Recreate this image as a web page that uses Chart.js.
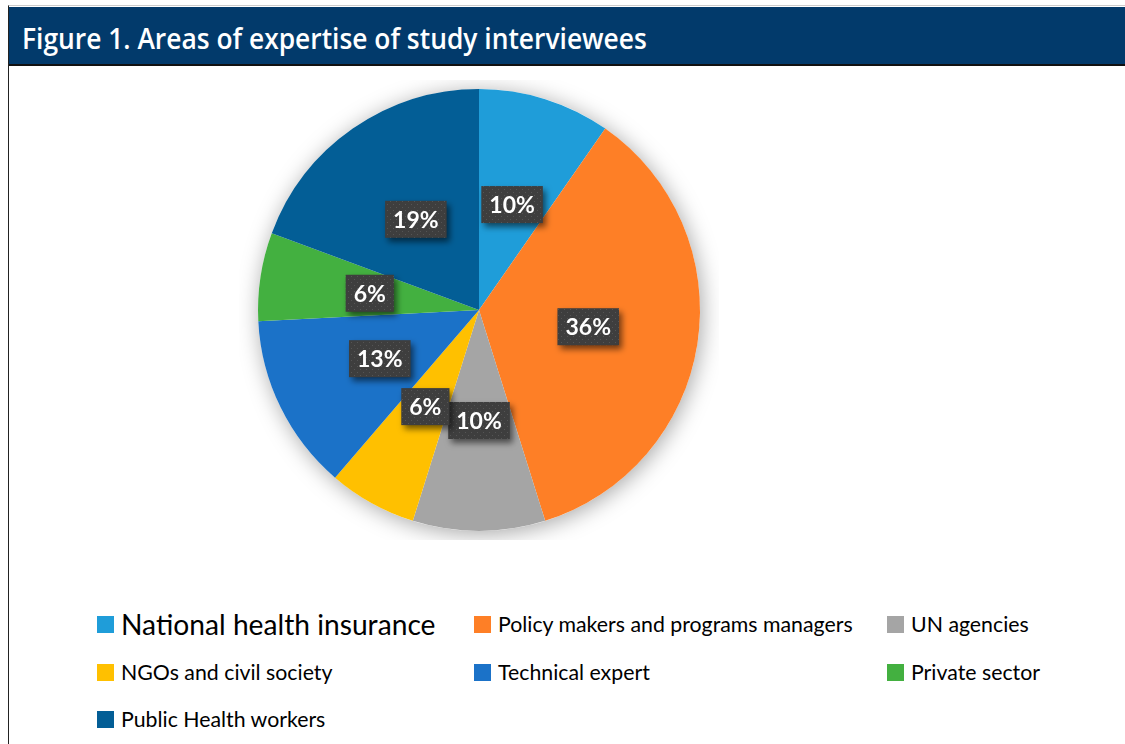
<!DOCTYPE html>
<html>
<head>
<meta charset="utf-8">
<script src="https://cdn.jsdelivr.net/npm/chart.js@4"></script>
<style>
  html, body { margin: 0; padding: 0; background: #fff; }
  body { width: 1125px; height: 744px; position: relative; overflow: hidden; font-family: Lato, "Open Sans", sans-serif; }
  .frame { position: absolute; left: 8px; top: 5px; width: 1200px; height: 800px; border-left: 1px solid #222; border-top: 1px solid #ccc; }
  .header { position: absolute; left: 0; top: 1px; width: 1200px; height: 57px; background: #023a6b; border-bottom: 2px solid #111; }
  .title { position: absolute; left: 13px; top: 11px; color: #fff; font-family: "Open Sans", sans-serif; font-weight: 600; font-size: 29px; white-space: nowrap; transform-origin: left center; }
  #chartBox { position: absolute; left: 239px; top: 80px; width: 480px; height: 460px; }
  .legend { position: absolute; left: 0; top: 0; }
  .item { position: absolute; display: flex; align-items: center; white-space: nowrap; color: #000; font-size: 21.3px; }
  .item .sw { width: 17px; height: 17px; margin-right: 7px; }
</style>
</head>
<body>
<div class="frame">
  <div class="header"><div class="title" id="title">Figure 1. Areas of expertise of study interviewees</div></div>
</div>
<div id="chartBox"><canvas id="pie"></canvas></div>
<div class="legend" id="legend"></div>
<script>
const categories = ['National health insurance', 'Policy makers and programs managers', 'UN agencies', 'NGOs and civil society', 'Technical expert', 'Private sector', 'Public Health workers'];
// number of interviewees per area
const counts = [3, 11, 3, 2, 4, 2, 6];
// percentage labels as printed on the slices
const pctLabels = ['10%', '36%', '10%', '6%', '13%', '6%', '19%'];
const colors = ['#1f9dd9', '#fe7f26', '#a5a5a5', '#ffc000', '#1b72c8', '#43b040', '#035e96'];

// fit title width like the original condensed face
const title = document.getElementById('title');
title.style.transform = 'scaleX(' + (625 / title.offsetWidth) + ')';

// legend, three columns
const legendCols = [97, 474, 887];
const legendRows = [624, 672, 719];
const legend = document.getElementById('legend');
categories.forEach((name, i) => {
  const d = document.createElement('div');
  d.className = 'item';
  d.style.left = legendCols[i % 3] + 'px';
  d.style.top = (legendRows[Math.floor(i / 3)] - 15) + 'px';
  d.style.height = '30px';
  if (i === 0) d.style.fontSize = '28.2px';
  d.innerHTML = '<span class="sw" style="background:' + colors[i] + '"></span><span>' + name + '</span>';
  legend.appendChild(d);
});

// dotted dark pattern for the label boxes
const pc = document.createElement('canvas');
pc.width = 6; pc.height = 6;
const pctx = pc.getContext('2d');
pctx.fillStyle = '#3e3e3e';
pctx.fillRect(0, 0, 6, 6);
pctx.fillStyle = '#555';
pctx.fillRect(1, 1, 1, 1);
pctx.fillRect(4, 4, 1, 1);

const pieShadow = {
  id: 'pieShadow',
  beforeDatasetsDraw(chart) {
    const arc = chart.getDatasetMeta(0).data[0];
    if (!arc) return;
    const ctx = chart.ctx;
    ctx.save();
    ctx.shadowColor = 'rgba(0,0,0,0.35)';
    ctx.shadowBlur = 22;
    ctx.shadowOffsetX = 2;
    ctx.shadowOffsetY = 3;
    ctx.fillStyle = '#fff';
    ctx.beginPath();
    ctx.arc(arc.x, arc.y, arc.outerRadius, 0, Math.PI * 2);
    ctx.fill();
    ctx.restore();
  }
};

const boxLabels = {
  id: 'boxLabels',
  afterDatasetsDraw(chart) {
    const ctx = chart.ctx;
    const pattern = ctx.createPattern(pc, 'repeat');
    ctx.save();
    ctx.font = 'bold 23px Lato, "Open Sans", sans-serif';
    ctx.textAlign = 'center';
    ctx.textBaseline = 'middle';
    chart.getDatasetMeta(0).data.forEach((arc, i) => {
      const p = arc.tooltipPosition();
      const txt = pctLabels[i];
      const w = ctx.measureText(txt).width + 16;
      const h = 37;
      ctx.save();
      ctx.shadowColor = 'rgba(0,0,0,0.55)';
      ctx.shadowBlur = 6;
      ctx.shadowOffsetX = 3;
      ctx.shadowOffsetY = 4;
      ctx.fillStyle = pattern;
      ctx.fillRect(p.x - w / 2, p.y - h / 2, w, h);
      ctx.restore();
      ctx.fillStyle = '#fff';
      ctx.fillText(txt, p.x, p.y + 1);
    });
    ctx.restore();
  }
};

new Chart(document.getElementById('pie'), {
  type: 'pie',
  data: {
    labels: categories,
    datasets: [{
      data: counts,
      backgroundColor: colors,
      borderWidth: 0
    }]
  },
  options: {
    responsive: true,
    maintainAspectRatio: false,
    animation: false,
    layout: { padding: 9 },
    plugins: {
      legend: { display: false },
      tooltip: { enabled: false }
    }
  },
  plugins: [pieShadow, boxLabels]
});
</script>
</body>
</html>
